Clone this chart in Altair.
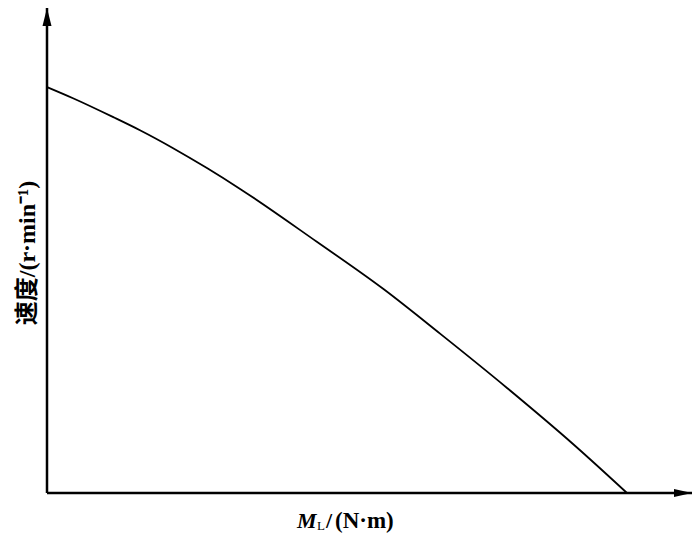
import altair as alt
import pandas as pd

# Load torque M_L (arbitrary units, axis unlabeled) and speed (arbitrary units)
torque = [0, 4.0, 10.2, 14.3, 19.4, 24.6, 29.7, 41.5, 51.7, 60.5, 70.8, 80.9, 89.2]
speed = [83.7, 81.4, 77.5, 74.8, 71.1, 67.0, 62.7, 51.8, 42.1, 32.8, 21.6, 10.1, 0]

x_max = 99.2
y_max = 100

y_title = "速度/(r·min⁻¹)"
x_title_main = "M"
x_title_sub = "L"
x_title_slash = "/"
x_title_unit = "(N·m)"

W, H = 645, 485
LATIN = "Liberation Serif, Times New Roman, Noto Sans CJK SC, serif"

df = pd.DataFrame({"torque": torque, "speed": speed})
xs = alt.Scale(domain=[0, x_max], nice=False, zero=True)
ys = alt.Scale(domain=[0, y_max], nice=False, zero=True)

curve = alt.Chart(df).mark_line(color="black", strokeWidth=1.8, interpolate="monotone").encode(
    x=alt.X("torque:Q", scale=xs, axis=None),
    y=alt.Y("speed:Q", scale=ys, axis=None),
)

axes_df = pd.DataFrame({"x": [0, 0], "y": [0, 0], "x2": [x_max, 0], "y2": [0, y_max]})
axes = alt.Chart(axes_df).mark_rule(color="black", strokeWidth=2.5).encode(
    x=alt.X("x:Q", scale=xs, axis=None),
    y=alt.Y("y:Q", scale=ys, axis=None),
    x2="x2:Q",
    y2="y2:Q",
)

tip_df_y = pd.DataFrame({"x": [0], "y": [y_max]})
tip_df_x = pd.DataFrame({"x": [x_max], "y": [0]})

arrow_up = alt.Chart(tip_df_y).mark_point(
    shape="M0,-1L0.5,1L-0.5,1Z", filled=True, size=324, color="black",
    opacity=1, strokeWidth=0, yOffset=9,
).encode(x=alt.X("x:Q", scale=xs, axis=None), y=alt.Y("y:Q", scale=ys, axis=None))

arrow_right = alt.Chart(tip_df_x).mark_point(
    shape="M1,0L-1,-0.45L-1,0.45Z", filled=True, size=324, color="black",
    opacity=1, strokeWidth=0, xOffset=-9,
).encode(x=alt.X("x:Q", scale=xs, axis=None), y=alt.Y("y:Q", scale=ys, axis=None))


def label(text, x, y, size, style="normal", weight="bold", angle=0, align="left"):
    return alt.Chart(pd.DataFrame({"t": [text]})).mark_text(
        font=LATIN, fontSize=size, fontStyle=style, fontWeight=weight,
        angle=angle, align=align, baseline="alphabetic", color="black",
    ).encode(text="t:N", x=alt.value(x), y=alt.value(y))


lab_M = label(x_title_main, 250, 520, 22, style="italic")
lab_L = label(x_title_sub, 270, 522, 13, weight="normal")
lab_slash = label(x_title_slash, 279, 520, 22)
lab_unit = label(x_title_unit, 288, 520, 23)
lab_y = label(y_title, -12, 245, 24, angle=270, align="center")

chart = alt.layer(
    axes, arrow_up, arrow_right, curve, lab_M, lab_L, lab_slash, lab_unit, lab_y
).properties(
    width=W, height=H,
    autosize=alt.AutoSizeParams(type="none"),
    padding={"left": 39, "top": 0, "right": 0, "bottom": 41},
    background="white",
).configure_view(stroke=None)

chart.save("out.html", embed_options={"renderer": "svg", "actions": False})
